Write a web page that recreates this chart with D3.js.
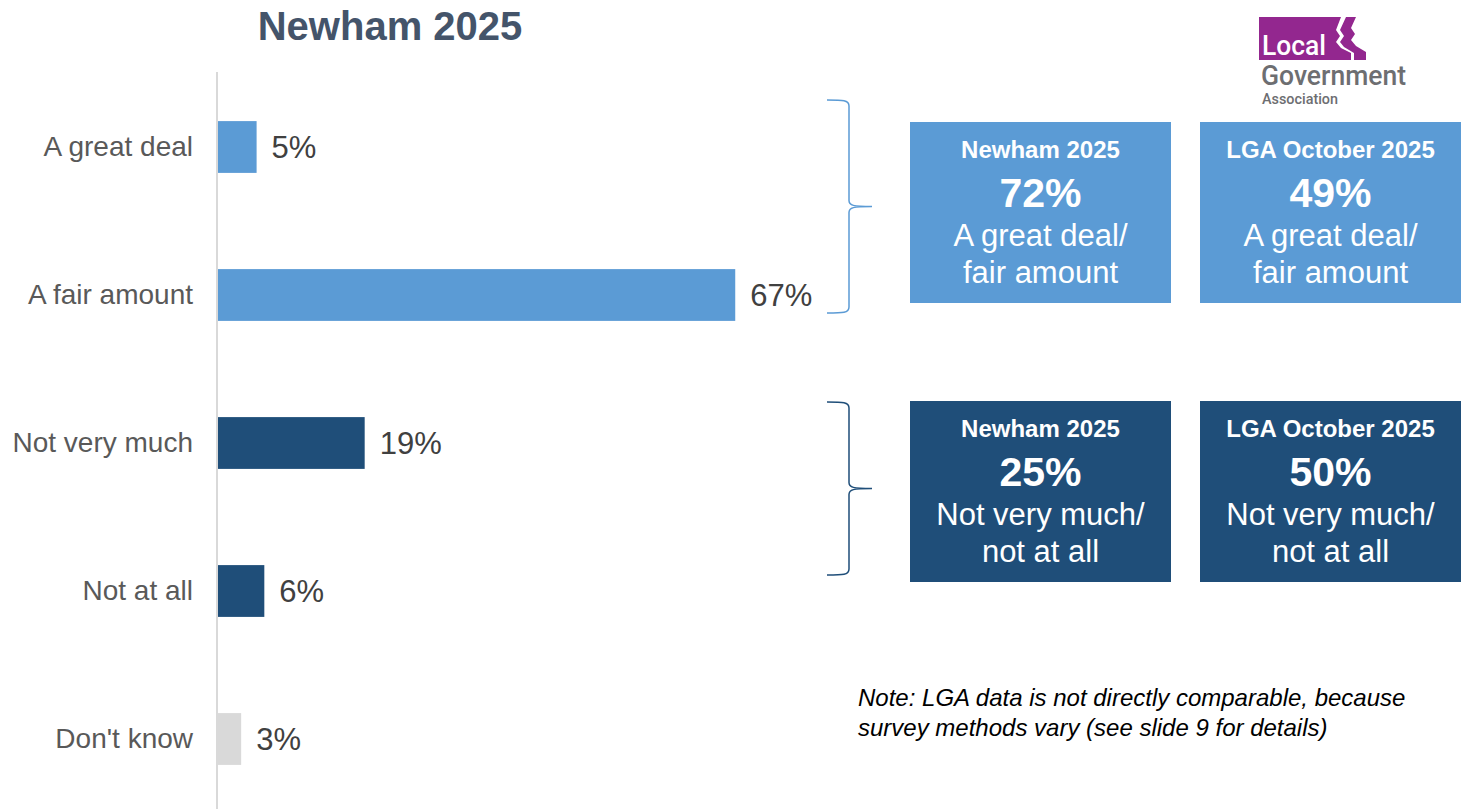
<!DOCTYPE html>
<html>
<head>
<meta charset="utf-8">
<script src="https://cdn.jsdelivr.net/npm/d3@7"></script>
<style>
  html, body { margin: 0; padding: 0; background: #ffffff; }
  svg { display: block; font-family: "Liberation Sans", Arial, sans-serif; }
</style>
</head>
<body>
<svg id="chart" width="1463" height="809"></svg>
<script>
// Responses: how much residents feel they know about the council
const categories = ["A great deal", "A fair amount", "Not very much", "Not at all", "Don't know"];
const values = [5, 67, 19, 6, 3];
const barColors = ["#5B9BD5", "#5B9BD5", "#1F4E79", "#1F4E79", "#D9D9D9"];

// Summary boxes: net positive / net negative
const boxGroups = ["positive", "negative"];
const boxHeaders = ["Newham 2025", "LGA October 2025"];
const positiveValues = [72, 49];
const negativeValues = [25, 50];
const positiveLabel = ["A great deal/", "fair amount"];
const negativeLabel = ["Not very much/", "not at all"];
const groupColors = ["#5B9BD5", "#1F4E79"];

const noteLines = [
  "Note: LGA data is not directly comparable, because",
  "survey methods vary (see slide 9 for details)"
];

const svg = d3.select("#chart");

// Title
svg.append("text")
  .attr("x", 390).attr("y", 40)
  .attr("text-anchor", "middle")
  .attr("font-size", 40).attr("font-weight", "bold")
  .attr("fill", "#44546A")
  .text("Newham 2025");

// Scales
const x = d3.scaleLinear().domain([0, 100]).range([218, 990]);
const y = d3.scaleBand().domain(categories).range([73, 813])
  .paddingInner(0.65).paddingOuter(0.325);

// Bars
svg.selectAll("rect.bar")
  .data(categories)
  .join("rect")
  .attr("class", "bar")
  .attr("x", x(0))
  .attr("y", d => y(d))
  .attr("width", (d, i) => x(values[i]) - x(0))
  .attr("height", y.bandwidth())
  .attr("fill", (d, i) => barColors[i]);

// Category axis (vertical line only, no ticks)
const axis = svg.append("g")
  .attr("transform", `translate(${x(0) - 1},0)`)
  .call(d3.axisLeft(y).tickSize(0).tickPadding(24));
axis.select(".domain").remove();
axis.append("line")
  .attr("x1", 0).attr("x2", 0).attr("y1", 72).attr("y2", 809)
  .attr("stroke", "#D9D9D9").attr("stroke-width", 2);
axis.selectAll(".tick text")
  .attr("font-family", "Liberation Sans, Arial, sans-serif")
  .attr("font-size", 28)
  .attr("fill", "#595959");

// Value labels
svg.selectAll("text.val")
  .data(categories)
  .join("text")
  .attr("class", "val")
  .attr("x", (d, i) => x(values[i]) + 15)
  .attr("y", d => y(d) + y.bandwidth() / 2)
  .attr("dy", "0.35em")
  .attr("font-size", 31)
  .attr("fill", "#404040")
  .text((d, i) => values[i] + "%");

// Braces grouping the positive and negative responses
function bracePath(top, bottom, xTip, xStem, xPoint) {
  const mid = (top + bottom) / 2;
  return `M${xTip},${top} C${xStem - 6},${top} ${xStem},${top} ${xStem},${top + 6}` +
    ` L${xStem},${mid - 6} C${xStem},${mid - 1} ${xStem + 4},${mid} ${xPoint},${mid}` +
    ` C${xStem + 4},${mid} ${xStem},${mid + 1} ${xStem},${mid + 6}` +
    ` L${xStem},${bottom - 6} C${xStem},${bottom} ${xStem - 6},${bottom} ${xTip},${bottom}`;
}
const braceSpans = [[100, 313], [402, 575]];
svg.selectAll("path.brace")
  .data(boxGroups)
  .join("path")
  .attr("class", "brace")
  .attr("d", (d, i) => bracePath(braceSpans[i][0], braceSpans[i][1], 827, 849, 872))
  .attr("fill", "none")
  .attr("stroke", (d, i) => groupColors[i])
  .attr("stroke-width", 1.5);

// Summary boxes
const boxX = [910, 1200];
const boxTop = [122, 401];
const boxW = 261, boxH = 181;
boxGroups.forEach((g, gi) => {
  const vals = gi === 0 ? positiveValues : negativeValues;
  const lbl = gi === 0 ? positiveLabel : negativeLabel;
  boxHeaders.forEach((h, bi) => {
    const bx = boxX[bi], by = boxTop[gi];
    const cx = bx + boxW / 2;
    const grp = svg.append("g");
    grp.append("rect")
      .attr("x", bx).attr("y", by).attr("width", boxW).attr("height", boxH)
      .attr("fill", groupColors[gi]);
    grp.append("text")
      .attr("x", cx).attr("y", by + 36)
      .attr("text-anchor", "middle").attr("font-size", 24).attr("font-weight", "bold")
      .attr("fill", "#ffffff").text(h);
    grp.append("text")
      .attr("x", cx).attr("y", by + 85)
      .attr("text-anchor", "middle").attr("font-size", 41).attr("font-weight", "bold")
      .attr("fill", "#ffffff").text(vals[bi] + "%");
    lbl.forEach((t, li) => {
      grp.append("text")
        .attr("x", cx).attr("y", by + 124 + li * 37)
        .attr("text-anchor", "middle").attr("font-size", 31)
        .attr("fill", "#ffffff").text(t);
    });
  });
});

// Note
svg.selectAll("text.note")
  .data(noteLines)
  .join("text")
  .attr("class", "note")
  .attr("x", 858)
  .attr("y", (d, i) => 706 + i * 30)
  .attr("font-size", 24)
  .attr("font-style", "italic")
  .attr("fill", "#000000")
  .text(d => d);

// Local Government Association logo
const logo = svg.append("g");
logo.append("path")
  .attr("d", "M1259,17 L1341,17 L1336,30 L1340,36 L1336,42 L1341,48 L1351,53 L1351,60 L1259,60 Z")
  .attr("fill", "#93278F");
logo.append("path")
  .attr("d", "M1346,17 L1356,17 L1351,28 L1355,34 L1351,40 L1356,46 L1366,52 L1366,60 L1354,60 L1354,53 L1344,47 L1340,42 L1344,36 L1340,30 Z")
  .attr("fill", "#93278F");
logo.append("text")
  .attr("x", 1262).attr("y", 55)
  .attr("font-family", "Roboto, sans-serif")
  .attr("font-size", 27).attr("font-weight", "500")
  .attr("fill", "#ffffff")
  .attr("textLength", 64).attr("lengthAdjust", "spacingAndGlyphs")
  .text("Local");
logo.append("text")
  .attr("x", 1261).attr("y", 85)
  .attr("font-family", "Roboto, sans-serif")
  .attr("font-size", 28).attr("font-weight", "500")
  .attr("fill", "#6D6E71")
  .attr("textLength", 145).attr("lengthAdjust", "spacingAndGlyphs")
  .text("Government");
logo.append("text")
  .attr("x", 1262).attr("y", 104)
  .attr("font-family", "Roboto, sans-serif")
  .attr("font-size", 14).attr("font-weight", "500")
  .attr("fill", "#6D6E71")
  .attr("textLength", 76).attr("lengthAdjust", "spacingAndGlyphs")
  .text("Association");
</script>
</body>
</html>
